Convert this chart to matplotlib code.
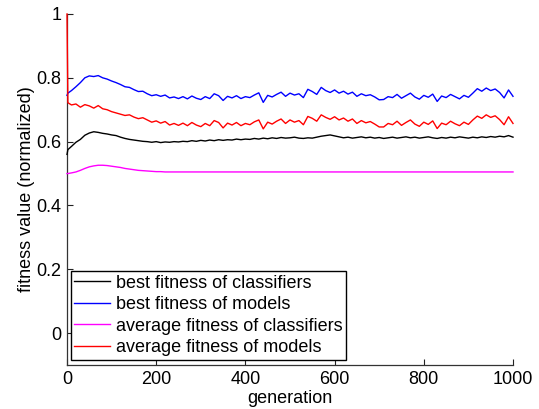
import numpy as np
import matplotlib
matplotlib.use("Agg")
import matplotlib.pyplot as plt

plt.rcParams['font.family'] = ['Liberation Sans', 'DejaVu Sans']

generation = [0, 2] + list(range(10, 1001, 10))

best_models = [
    0.745, 0.752, 0.760, 0.772, 0.785, 0.800, 0.806, 0.804, 0.807, 0.800,
    0.796, 0.790, 0.785, 0.779, 0.772, 0.770, 0.763, 0.757, 0.758, 0.750,
    0.744, 0.747, 0.742, 0.746, 0.737, 0.740, 0.735, 0.741, 0.734, 0.743,
    0.736, 0.732, 0.741, 0.735, 0.750, 0.744, 0.729, 0.742, 0.737, 0.744,
    0.735, 0.741, 0.738, 0.746, 0.753, 0.723, 0.745, 0.740, 0.748, 0.755,
    0.742, 0.752, 0.746, 0.750, 0.738, 0.764, 0.757, 0.748, 0.770, 0.760,
    0.754, 0.762, 0.752, 0.758, 0.749, 0.755, 0.742, 0.750, 0.744, 0.747,
    0.740, 0.731, 0.732, 0.741, 0.738, 0.748, 0.736, 0.744, 0.752, 0.740,
    0.733, 0.745, 0.739, 0.749, 0.726, 0.743, 0.738, 0.748, 0.741, 0.734,
    0.745, 0.739, 0.752, 0.766, 0.758, 0.768, 0.760, 0.765, 0.754, 0.737,
    0.762, 0.742,
]

avg_models = [
    1.000, 0.722, 0.715, 0.718, 0.708, 0.716, 0.712, 0.705, 0.713, 0.703,
    0.700, 0.694, 0.690, 0.686, 0.682, 0.684, 0.677, 0.672, 0.675, 0.668,
    0.661, 0.665, 0.658, 0.663, 0.652, 0.657, 0.651, 0.658, 0.650, 0.660,
    0.652, 0.647, 0.657, 0.650, 0.666, 0.660, 0.643, 0.658, 0.652, 0.660,
    0.650, 0.657, 0.653, 0.662, 0.668, 0.640, 0.661, 0.655, 0.664, 0.671,
    0.657, 0.668, 0.661, 0.666, 0.653, 0.679, 0.673, 0.664, 0.684, 0.676,
    0.670, 0.678, 0.668, 0.674, 0.664, 0.671, 0.657, 0.666, 0.659, 0.663,
    0.655, 0.646, 0.646, 0.657, 0.653, 0.664, 0.651, 0.660, 0.668, 0.655,
    0.648, 0.661, 0.654, 0.665, 0.641, 0.658, 0.653, 0.664, 0.656, 0.650,
    0.661, 0.654, 0.668, 0.680, 0.673, 0.684, 0.676, 0.681, 0.669, 0.653,
    0.678, 0.657,
]

best_classifiers = [
    0.560, 0.575, 0.585, 0.598, 0.607, 0.620, 0.627, 0.631, 0.629, 0.626,
    0.624, 0.621, 0.619, 0.614, 0.610, 0.607, 0.605, 0.603, 0.601, 0.600,
    0.598, 0.600, 0.597, 0.599, 0.598, 0.600, 0.599, 0.601, 0.600, 0.603,
    0.601, 0.604, 0.602, 0.605, 0.603, 0.606, 0.604, 0.606, 0.605, 0.608,
    0.606, 0.608, 0.607, 0.610, 0.608, 0.611, 0.609, 0.612, 0.610, 0.613,
    0.611, 0.612, 0.614, 0.611, 0.610, 0.612, 0.611, 0.614, 0.617, 0.619,
    0.621, 0.618, 0.615, 0.612, 0.614, 0.611, 0.613, 0.615, 0.612, 0.614,
    0.611, 0.613, 0.610, 0.612, 0.614, 0.611, 0.613, 0.615, 0.612, 0.614,
    0.611, 0.613, 0.615, 0.612, 0.610, 0.613, 0.611, 0.614, 0.612, 0.615,
    0.613, 0.611, 0.614, 0.612, 0.615, 0.613, 0.616, 0.614, 0.617, 0.615,
    0.619, 0.614,
]

avg_classifiers = [
    0.500, 0.500, 0.502, 0.505, 0.510, 0.516, 0.521, 0.524, 0.526, 0.526,
    0.525, 0.523, 0.521, 0.519, 0.516, 0.514, 0.512, 0.510, 0.509, 0.508,
    0.507, 0.506, 0.506, 0.505, 0.505, 0.505, 0.505, 0.505, 0.505, 0.505,
    0.505, 0.505, 0.505, 0.505, 0.505, 0.505, 0.505, 0.505, 0.505, 0.505,
    0.505, 0.505, 0.505, 0.505, 0.505, 0.505, 0.505, 0.505, 0.505, 0.505,
    0.505, 0.505, 0.505, 0.505, 0.505, 0.505, 0.505, 0.505, 0.505, 0.505,
    0.505, 0.505, 0.505, 0.505, 0.505, 0.505, 0.505, 0.505, 0.505, 0.505,
    0.505, 0.505, 0.505, 0.505, 0.505, 0.505, 0.505, 0.505, 0.505, 0.505,
    0.505, 0.505, 0.505, 0.505, 0.505, 0.505, 0.505, 0.505, 0.505, 0.505,
    0.505, 0.505, 0.505, 0.505, 0.505, 0.505, 0.505, 0.505, 0.505, 0.505,
    0.505, 0.505,
]

series_labels = ["best fitness of classifiers", "best fitness of models",
                 "average fitness of classifiers", "average fitness of models"]
series_colors = ["black", "blue", "magenta", "red"]

x_ticks = [0, 200, 400, 600, 800, 1000]
y_ticks = [0, 0.2, 0.4, 0.6, 0.8, 1]
y_tick_labels = ["0", "0.2", "0.4", "0.6", "0.8", "1"]

FS = 13

fig = plt.figure(figsize=(5.39, 4.09), dpi=100)
ax = fig.add_axes([67/539, 44/409, (513-67)/539, (365-14)/409])

for data, lab, col in zip([best_classifiers, best_models, avg_classifiers, avg_models],
                          series_labels, series_colors):
    ax.plot(generation, data, color=col, lw=1.0, label=lab, zorder=3, clip_on=False)

ax.set_xlim(0, 1000)
ax.set_ylim(-0.1, 1.0)
ax.set_xticks(x_ticks)
ax.set_xticklabels([str(t) for t in x_ticks])
ax.set_yticks(y_ticks)
ax.set_yticklabels(y_tick_labels)
ax.tick_params(direction='in', length=4, width=0.8, labelsize=FS, pad=4,
               colors='#222222', labelcolor='black')
for s in ['top', 'right']:
    ax.spines[s].set_visible(False)
for s in ['left', 'bottom']:
    ax.spines[s].set_linewidth(0.9)
    ax.spines[s].set_color('#333333')

ax.set_xlabel("generation", fontsize=FS, labelpad=2)
ax.set_ylabel("fitness value (normalized)", fontsize=FS, labelpad=1)

leg = ax.legend(loc='lower left', bbox_to_anchor=(0.008, 0.015), fontsize=FS,
                frameon=True, fancybox=False, edgecolor='black', framealpha=1,
                borderpad=0.2, labelspacing=0.25, handlelength=2.0,
                handletextpad=0.3, borderaxespad=0)
leg.get_frame().set_linewidth(1.0)
leg.set_zorder(5)

fig.savefig("out.png", dpi=100)
